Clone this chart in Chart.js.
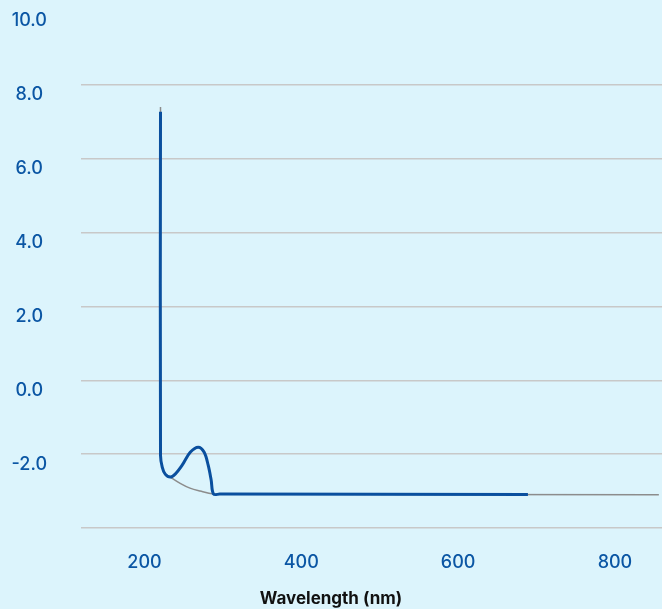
<!DOCTYPE html>
<html>
<head>
<meta charset="utf-8">
<script src="https://cdn.jsdelivr.net/npm/chart.js@4.4.1/dist/chart.umd.min.js"></script>
<style>
  html, body { margin: 0; padding: 0; background: #dcf4fc; }
  canvas { display: block; }
</style>
</head>
<body>
<canvas id="spectrumChart" width="662" height="609"></canvas>
<script>
// measured spectrum (blue) and fitted baseline (grey)
const measuredWavelength = [220.4, 220.4, 222.6, 226.4, 232.8, 239.1, 248, 258.3, 268.5, 276.1, 281.2, 285, 288, 296, 689];
const measuredValue = [7.27, -2.03, -2.35, -2.54, -2.62, -2.54, -2.30, -1.95, -1.81, -1.95, -2.30, -2.70, -3.08, -3.08, -3.09];

const baselineWavelength = [220.4, 220.4, 222.6, 226.4, 232.8, 245.5, 258, 271, 288, 300, 856];
const baselineValue = [7.40, -2.03, -2.35, -2.54, -2.62, -2.79, -2.92, -3.00, -3.08, -3.08, -3.10];

const xTickValues = [200, 400, 600, 800];
const yTickValues = [-4, -2, 0, 2, 4, 6, 8, 10];

const blue = '#0a4f9e';
const labelBlue = '#0b56a4';
const fontFamily = 'Inter, "Noto Sans", sans-serif';

function toPoints(xs, ys) {
    return xs.map(function(x, i) { return { x: x, y: ys[i] }; });
}

const data = {
    datasets: [{
        label: 'Spectrum',
        data: toPoints(measuredWavelength, measuredValue),
        borderColor: blue,
        borderWidth: 3,
        pointRadius: 0,
        tension: 0.35,
        fill: false
    }, {
        label: 'Baseline',
        data: toPoints(baselineWavelength, baselineValue),
        borderColor: '#8c8c8c',
        borderWidth: 1.5,
        pointRadius: 0,
        tension: 0.35,
        fill: false
    }]
};

const config = {
    type: 'line',
    data: data,
    options: {
        responsive: false,
        animation: false,
        layout: { padding: { top: 11, left: 0, right: 0, bottom: 0 } },
        plugins: {
            legend: { display: false },
            tooltip: { enabled: false },
            title: {
                display: true,
                text: 'Wavelength (nm)',
                position: 'bottom',
                color: '#111111',
                font: { family: fontFamily, size: 17, weight: 'bold' },
                padding: { top: 2, bottom: 0 }
            }
        },
        scales: {
            x: {
                type: 'linear',
                min: 119,
                max: 860,
                afterBuildTicks: function(scale) {
                    scale.ticks = xTickValues.map(function(v) { return { value: v }; });
                },
                afterFit: function(scale) { scale.height = 58.6; },
                grid: { display: false },
                border: { display: false },
                ticks: {
                    color: labelBlue,
                    padding: 16,
                    font: { family: fontFamily, size: 18, weight: '500' },
                    callback: function(v) { return String(v); }
                }
            },
            y: {
                min: -4,
                max: 10,
                afterBuildTicks: function(scale) {
                    scale.ticks = yTickValues.map(function(v) { return { value: v }; });
                },
                afterFit: function(scale) {
                    scale.width = 81;
                    scale.paddingTop = 0;
                    scale.paddingBottom = 0;
                },
                border: { display: false },
                grid: {
                    drawTicks: false,
                    lineWidth: 1.5,
                    color: function(ctx) {
                        return ctx.tick && ctx.tick.value === 10 ? 'rgba(0,0,0,0)' : '#c8c8c8';
                    }
                },
                ticks: {
                    color: labelBlue,
                    padding: 34,
                    crossAlign: 'center',
                    labelOffset: 10,
                    font: { family: fontFamily, size: 18, weight: '500' },
                    callback: function(v) { return v === -4 ? '' : v.toFixed(1); }
                }
            }
        }
    }
};

var chart = new Chart(document.getElementById('spectrumChart'), config);
</script>
</body>
</html>
